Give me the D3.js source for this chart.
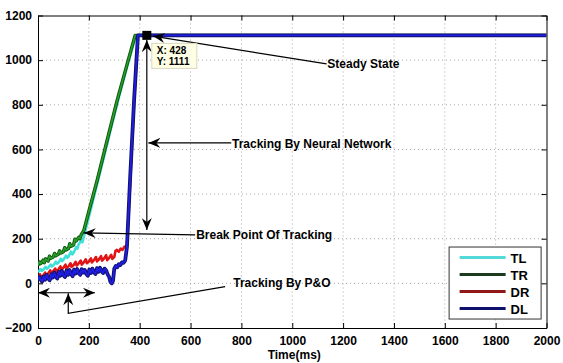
<!DOCTYPE html>
<html>
<head>
<meta charset="utf-8">
<script src="https://cdn.jsdelivr.net/npm/d3@7"></script>
<style>
  body { margin: 0; background: #fff; }
  text { font-family: "Liberation Sans", Arial, sans-serif; font-weight: bold; }
</style>
</head>
<body>
<svg id="chart" width="563" height="363"></svg>
<script>
// ### DATA
var seriesNames = ["TL", "TR", "DR", "DL"];
var xTicks = [0, 200, 400, 600, 800, 1000, 1200, 1400, 1600, 1800, 2000];
var yTicks = [-200, 0, 200, 400, 600, 800, 1000, 1200];

// [time(ms), power]
var tlData = [[0,50],[10,64],[15,56],[20,60],[30,74],[35,66],[40,70],[50,84],[55,76],[60,80],[70,97],
  [75,88],[80,92],[90,110],[95,100],[100,106],[110,124],[115,114],[120,120],[130,142],[135,130],
  [140,137],[150,162],[155,156],[160,176],[170,190],[175,184],[180,208],
  [200,298],[235,455],[272,625],[313,812],[352,978],[385,1111],[395,1111],[2000,1111]];
var trData = [[0,80],[5,96],[10,88],[20,104],[25,92],[30,110],[40,100],[45,122],[50,112],[60,118],
  [65,134],[70,124],[80,130],[85,146],[90,136],[100,142],[105,160],[110,150],[120,156],[125,178],
  [130,166],[140,172],[145,198],[150,190],[160,206],[165,200],[170,218],[180,236],
  [198,314],[233,463],[270,632],[311,818],[350,980],[382,1111],[395,1111],[2000,1111]];
var drData = [[0,25],[8,40],[12,28],[20,34],[28,48],[32,36],[40,44],[48,58],[52,46],[60,54],[68,66],
  [72,52],[80,62],[88,76],[92,62],[100,70],[108,84],[112,68],[120,76],[128,90],[132,74],[140,82],
  [148,96],[152,80],[160,90],[168,102],[172,84],[180,94],[188,108],[192,90],[200,98],[208,112],
  [212,94],[220,104],[228,118],[232,98],[240,108],[248,122],[252,102],[260,112],[268,126],[272,104],
  [280,114],[288,128],[292,110],[300,118],[305,146],[310,150],[318,142],[325,156],[332,150],
  [340,164],[350,168],[362,440],[378,810],[393,1111],[2000,1111]];
var dlData = [[0,14],[6,30],[10,18],[16,8],[22,30],[28,16],[34,38],[40,22],[46,14],[52,40],[58,26],
  [64,48],[70,30],[76,22],[82,52],[88,34],[94,56],[100,36],[106,28],[112,58],[118,38],[124,60],
  [130,42],[136,32],[142,62],[148,44],[154,64],[160,46],[166,38],[172,64],[178,48],[184,60],
  [190,42],[196,34],[202,62],[208,46],[214,66],[220,50],[226,42],[232,68],[238,52],[244,70],
  [250,54],[256,46],[262,66],[268,58],[274,40],[280,28],[285,6],[290,0],[295,12],[300,66],[306,78],
  [312,72],[318,86],[324,82],[330,94],[336,92],[343,103],[350,165],[362,463],[378,822],
  [393,1111],[2000,1111]];

var tipPoint = [428, 1111];

// annotations in data units: [x1, y1, x2(tip), y2(tip)]
var arrowSteady = [1135, 983, 452, 1108];
var arrowNN = [760, 629, 434, 629];
var arrowBreak = [618, 217, 180, 226];
var arrowVert = [428, 1090, 428, 239];
var arrowPOHoriz = [0, -42, 224, -42];
var poPath = [[736, -15], [119, -134], [119, -44]];

var labels = [
  { text: "Steady State", t: 1138, v: 966 },
  { text: "Tracking By Neural Network", t: 763, v: 606 },
  { text: "Break Point Of Tracking", t: 622, v: 197 },
  { text: "Tracking By P&O", t: 768, v: -15 }
];

// ### LAYOUT
var margin = { top: 15.5, right: 16.5, bottom: 35, left: 38 };
var width = 563 - margin.left - margin.right;
var height = 363 - margin.top - margin.bottom;

var svg = d3.select("#chart");
var g = svg.append("g").attr("transform", "translate(" + margin.left + "," + margin.top + ")");

var x = d3.scaleLinear().domain([0, 2000]).range([0, width]);
var y = d3.scaleLinear().domain([-200, 1200]).range([height, 0]);

// grid
g.append("g").selectAll("line").data(xTicks.slice(1, -1)).enter().append("line")
  .attr("x1", d => x(d)).attr("x2", d => x(d)).attr("y1", 0).attr("y2", height)
  .attr("stroke", "#a8a8a8").attr("stroke-dasharray", "1,3");
g.append("g").selectAll("line").data(yTicks.slice(1, -1)).enter().append("line")
  .attr("y1", d => y(d)).attr("y2", d => y(d)).attr("x1", 0).attr("x2", width)
  .attr("stroke", "#a8a8a8").attr("stroke-dasharray", "1,3");

// axes (MATLAB style: inward ticks on all sides)
var fmt = d3.format("d");
var xAxis = g.append("g").attr("transform", "translate(0," + height + ")")
  .call(d3.axisBottom(x).tickValues(xTicks).tickFormat(fmt).tickSizeInner(-5).tickSizeOuter(0).tickPadding(8));
var xTop = g.append("g").call(d3.axisTop(x).tickValues(xTicks).tickSizeInner(-5).tickSizeOuter(0).tickFormat(""));
var yAxis = g.append("g")
  .call(d3.axisLeft(y).tickValues(yTicks).tickFormat(fmt).tickSizeInner(-5).tickSizeOuter(0).tickPadding(6));
var yRight = g.append("g").attr("transform", "translate(" + width + ",0)")
  .call(d3.axisRight(y).tickValues(yTicks).tickSizeInner(-5).tickSizeOuter(0).tickFormat(""));
[xAxis, xTop, yAxis, yRight].forEach(function(a) {
  a.select(".domain").attr("stroke", "#000");
  a.selectAll(".tick line").attr("stroke", "#000");
  a.selectAll("text").attr("font-size", "12px").attr("font-weight", "bold")
    .attr("font-family", "Liberation Sans, Arial, sans-serif").attr("fill", "#000");
});

g.append("text").attr("x", width / 2 + 2).attr("y", height + 31).attr("text-anchor", "middle")
  .attr("font-size", "12px").text("Time(ms)");

// ### LINES
var line = d3.line().x(d => x(d[0])).y(d => y(d[1]));
g.append("clipPath").attr("id", "clip").append("rect")
  .attr("width", width).attr("height", height);
var plot = g.append("g").attr("clip-path", "url(#clip)");

var seriesDraw = [
  { data: tlData, layers: [["#3fe0da", 2.6]] },
  { data: trData, layers: [["#0d560d", 3.4], ["#2a9c2a", 1.6]] },
  { data: drData, layers: [["#e01414", 2.6]] },
  { data: dlData, layers: [["#12126a", 3.8], ["#1e1ee6", 1.8]] }
];
seriesDraw.forEach(function(s) {
  s.layers.forEach(function(l) {
    plot.append("path").datum(s.data).attr("d", line)
      .attr("fill", "none").attr("stroke", l[0]).attr("stroke-width", l[1])
      .attr("stroke-linejoin", "round");
  });
});

// ### ANNOTATIONS
var defs = svg.append("defs");
defs.append("marker").attr("id", "head").attr("viewBox", "0 0 12 10")
  .attr("refX", 12).attr("refY", 5).attr("markerWidth", 12).attr("markerHeight", 10)
  .attr("markerUnits", "userSpaceOnUse").attr("orient", "auto-start-reverse")
  .append("path").attr("d", "M0,0 L12,5 L0,10 L4,5 Z").attr("fill", "#000");

function arrow(a, both) {
  var l = g.append("line")
    .attr("x1", x(a[0])).attr("y1", y(a[1])).attr("x2", x(a[2])).attr("y2", y(a[3]))
    .attr("stroke", "#000").attr("stroke-width", 1.2).attr("marker-end", "url(#head)");
  if (both) l.attr("marker-start", "url(#head)");
}
arrow(arrowSteady);
arrow(arrowNN);
arrow(arrowBreak);
arrow(arrowVert, true);
arrow(arrowPOHoriz, true);
g.append("path").datum(poPath).attr("d", line).attr("fill", "none")
  .attr("stroke", "#000").attr("stroke-width", 1.2).attr("marker-end", "url(#head)");

g.selectAll(".ann").data(labels).enter().append("text").attr("class", "ann")
  .attr("x", d => x(d.t)).attr("y", d => y(d.v)).attr("font-size", "12px").text(d => d.text);

// data tip
var tx = x(tipPoint[0]), ty = y(tipPoint[1]);
g.append("rect").attr("x", tx - 4.5).attr("y", ty - 4.5).attr("width", 9).attr("height", 9).attr("fill", "#000");
var tip = g.append("g").attr("transform", "translate(" + (tx + 5) + "," + (ty + 8) + ")");
tip.append("rect").attr("width", 45).attr("height", 25)
  .attr("fill", "#ffffe6").attr("stroke", "#d8d8c0");
tip.append("text").attr("x", 5).attr("y", 11).attr("font-size", "10px").text("X: " + tipPoint[0]);
tip.append("text").attr("x", 5).attr("y", 22).attr("font-size", "10px").text("Y: " + tipPoint[1]);

// ### LEGEND
var legendColors = ["#55d8d8", "#1c3a1c", "#901818", "#10106e"];
var lg = g.append("g").attr("transform", "translate(" + x(1615) + "," + y(165) + ")");
lg.append("rect").attr("x", 0.5).attr("y", 0.5).attr("width", 92).attr("height", 72)
  .attr("fill", "#fff").attr("stroke", "#333");
var row = lg.selectAll(".row").data(seriesNames).enter().append("g")
  .attr("transform", (d, i) => "translate(0," + (11 + i * 17) + ")");
row.append("line").attr("x1", 11).attr("x2", 57).attr("stroke", (d, i) => legendColors[i]).attr("stroke-width", 3);
row.append("text").attr("x", 62).attr("y", 5).attr("font-size", "13px").text(d => d);
</script>
</body>
</html>
